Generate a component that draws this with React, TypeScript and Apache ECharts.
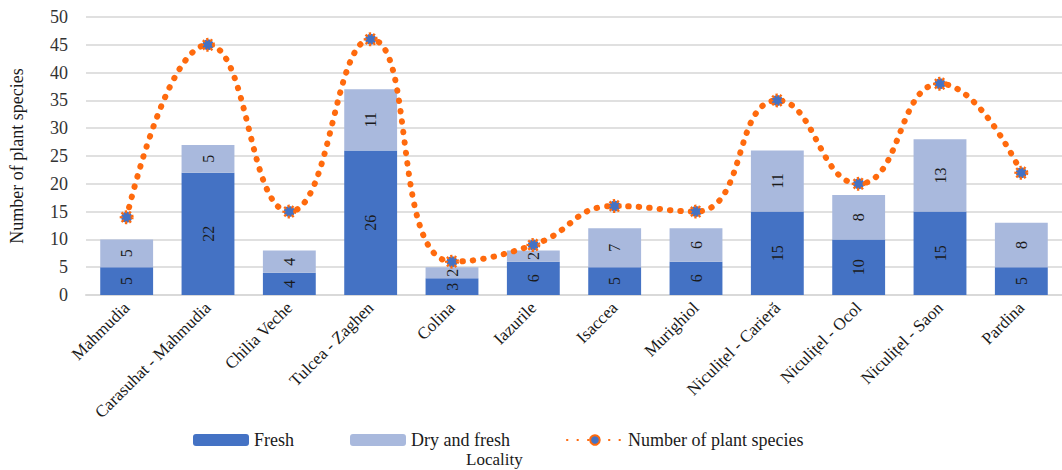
import React, { useEffect, useRef } from "react";
import * as echarts from "echarts";

// Localities along the category axis
const localities = [
  "Mahmudia",
  "Carasuhat - Mahmudia",
  "Chilia Veche",
  "Tulcea - Zaghen",
  "Colina",
  "Iazurile",
  "Isaccea",
  "Murighiol",
  "Niculițel - Carieră",
  "Niculițel - Ocol",
  "Niculițel - Saon",
  "Pardina",
];

// Stacked bar values
const fresh = [5, 22, 4, 26, 3, 6, 5, 6, 15, 10, 15, 5];
const dryAndFresh = [5, 5, 4, 11, 2, 2, 7, 6, 11, 8, 13, 8];

// Smoothed dotted line values
const plantSpecies = [14, 45, 15, 46, 6, 9, 16, 15, 35, 20, 38, 22];

const FONT = "'Liberation Serif', 'DejaVu Serif', serif";
const BLUE = "#4472C4";
const LIGHT = "#A9B9DD";
const ORANGE = "#FF6A0D";

export default function App() {
  const ref = useRef<HTMLDivElement>(null);

  useEffect(() => {
    document.body.style.margin = "0";
    const chart = echarts.init(ref.current!, null, { renderer: "svg" });

    const barLabel = {
      show: true,
      position: "inside" as const,
      rotate: 90,
      color: "#1a1a1a",
      fontFamily: FONT,
      fontSize: 16,
    };

    chart.setOption({
      animation: false,
      backgroundColor: "#ffffff",
      textStyle: { fontFamily: FONT },
      grid: { left: 84, top: 17, width: 987, height: 278 },
      legend: {
        left: 188,
        top: 426,
        itemWidth: 56,
        itemHeight: 12,
        itemGap: 56,
        textStyle: { fontFamily: FONT, fontSize: 18, color: "#1a1a1a" },
        data: ["Fresh", "Dry and fresh", "Number of plant species"],
      },
      xAxis: {
        type: "category",
        data: localities,
        axisLine: { show: true, lineStyle: { color: "#D9D9D9", width: 2 } },
        axisTick: { show: false },
        axisLabel: {
          interval: 0,
          rotate: 45,
          margin: 10,
          fontFamily: FONT,
          fontSize: 17,
          color: "#1a1a1a",
        },
      },
      yAxis: {
        type: "value",
        min: 0,
        max: 50,
        interval: 5,
        name: "Number of plant species",
        nameLocation: "middle",
        nameGap: 60,
        nameTextStyle: { fontFamily: FONT, fontSize: 18, color: "#1a1a1a" },
        axisLine: { show: false },
        axisTick: { show: false },
        axisLabel: { fontFamily: FONT, fontSize: 18, color: "#333333", margin: 18 },
        splitLine: { lineStyle: { color: "#E0E0E0", width: 2 } },
      },
      series: [
        {
          name: "Fresh",
          type: "bar",
          stack: "total",
          data: fresh,
          barCategoryGap: "35%",
          itemStyle: { color: BLUE },
          label: barLabel,
        },
        {
          name: "Dry and fresh",
          type: "bar",
          stack: "total",
          data: dryAndFresh,
          barCategoryGap: "35%",
          itemStyle: { color: LIGHT },
          label: barLabel,
        },
        {
          name: "Number of plant species",
          type: "line",
          data: plantSpecies,
          smooth: 0.5,
          symbol: "circle",
          symbolSize: 11,
          itemStyle: {
            color: BLUE,
            borderColor: ORANGE,
            borderWidth: 3,
            borderType: [2, 2],
          },
          lineStyle: {
            color: ORANGE,
            width: 6,
            type: [0.5, 10],
            cap: "round",
          },
          z: 5,
        },
      ],
      graphic: [
        {
          type: "text",
          left: 466,
          top: 451,
          style: {
            text: "Locality",
            fontFamily: FONT,
            fontSize: 17,
            fill: "#1a1a1a",
          },
        },
      ],
    });

    return () => chart.dispose();
  }, []);

  return <div ref={ref} style={{ width: 1062, height: 470 }} />;
}
